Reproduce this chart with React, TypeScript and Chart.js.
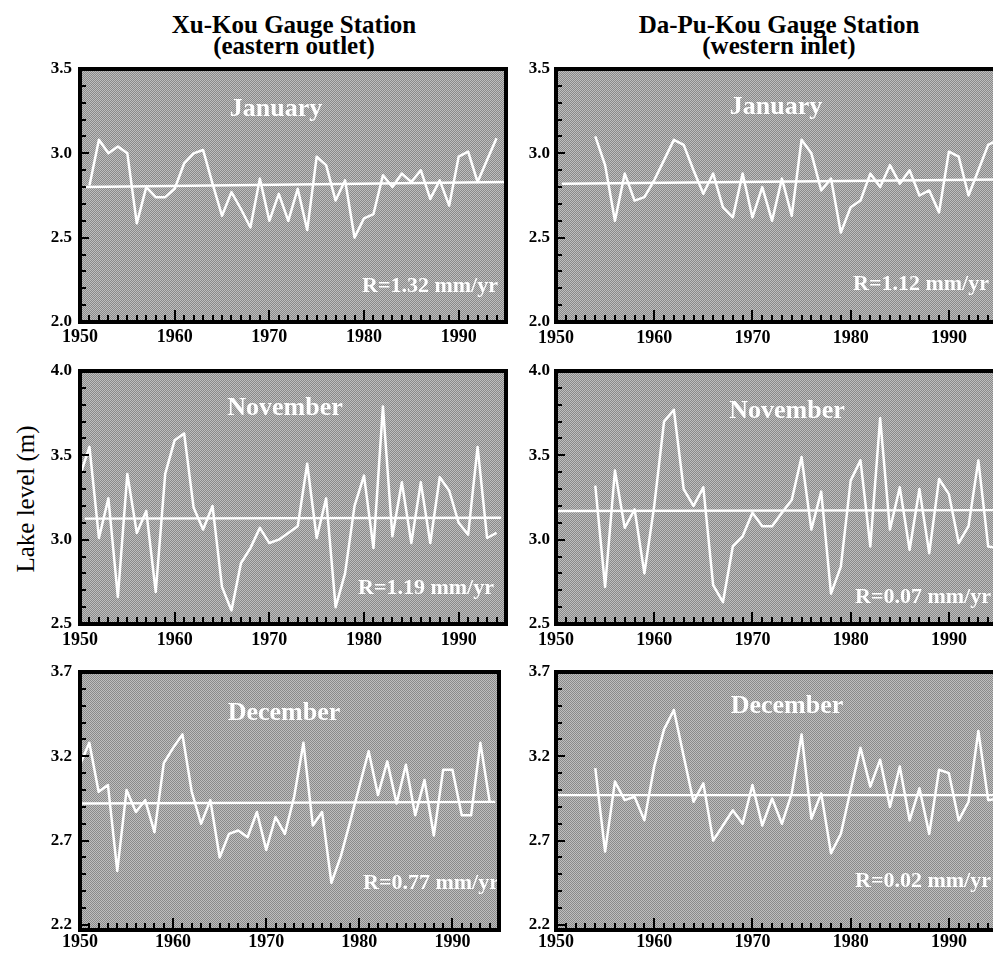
import React, { useEffect, useRef } from "react";
import { Chart, registerables } from "chart.js";

Chart.register(...registerables);

// ---------------- DATA ----------------
const xTickYears = [1950, 1960, 1970, 1980, 1990];

const janYTicks = [2.0, 2.5, 3.0, 3.5];
const novYTicks = [2.5, 3.0, 3.5, 4.0];
const decYTicks = [2.2, 2.7, 3.2, 3.7];

// Xu-Kou (eastern outlet)
const xuKouJanStart = 1951;
const xuKouJan = [2.81, 3.08, 3.0, 3.04, 3.0, 2.585, 2.8, 2.74, 2.74, 2.79, 2.94, 3.0, 3.02, 2.82, 2.63, 2.77, 2.67, 2.56, 2.85, 2.6, 2.76, 2.6, 2.79, 2.545, 2.98, 2.93, 2.72, 2.84, 2.5, 2.615, 2.64, 2.87, 2.8, 2.88, 2.83, 2.9, 2.73, 2.84, 2.69, 2.98, 3.01, 2.83, 2.96, 3.09];
const xuKouJanTrendYears = [1950.6, 1995];
const xuKouJanTrend = [2.8, 2.83];

const xuKouNovStart = 1950;
const xuKouNov = [3.38, 3.55, 3.01, 3.245, 2.66, 3.39, 3.04, 3.17, 2.69, 3.39, 3.59, 3.63, 3.19, 3.06, 3.2, 2.72, 2.58, 2.86, 2.95, 3.07, 2.98, 3.0, 3.04, 3.08, 3.45, 3.01, 3.245, 2.6, 2.8, 3.2, 3.38, 2.95, 3.79, 3.02, 3.34, 2.98, 3.34, 2.98, 3.37, 3.29, 3.1, 3.03, 3.55, 3.01, 3.04];
const xuKouNovTrendYears = [1950.5, 1994.5];
const xuKouNovTrend = [3.125, 3.13];

const xuKouDecStart = 1950;
const xuKouDec = [3.15, 3.28, 2.99, 3.03, 2.52, 3.0, 2.87, 2.94, 2.75, 3.16, 3.25, 3.33, 2.99, 2.8, 2.94, 2.6, 2.74, 2.76, 2.72, 2.87, 2.645, 2.84, 2.74, 2.96, 3.28, 2.79, 2.87, 2.45, 2.605, 2.81, 3.02, 3.23, 2.97, 3.17, 2.92, 3.15, 2.85, 3.06, 2.73, 3.12, 3.12, 2.85, 2.85, 3.28, 2.93];
const xuKouDecTrendYears = [1950, 1994.6];
const xuKouDecTrend = [2.92, 2.93];

// Da-Pu-Kou (western inlet)
const daPuKouJanStart = 1954;
const daPuKouJan = [3.1, 2.93, 2.6, 2.88, 2.72, 2.74, 2.84, 2.96, 3.08, 3.05, 2.9, 2.76, 2.88, 2.68, 2.62, 2.88, 2.62, 2.8, 2.6, 2.85, 2.63, 3.08, 3.0, 2.78, 2.85, 2.53, 2.68, 2.72, 2.88, 2.8, 2.93, 2.82, 2.9, 2.75, 2.78, 2.65, 3.01, 2.98, 2.75, 2.9, 3.05, 3.08];
const daPuKouJanTrendYears = [1950.6, 1995];
const daPuKouJanTrend = [2.82, 2.845];

const daPuKouNovStart = 1954;
const daPuKouNov = [3.32, 2.72, 3.41, 3.07, 3.18, 2.8, 3.2, 3.7, 3.77, 3.3, 3.2, 3.31, 2.73, 2.63, 2.96, 3.02, 3.16, 3.08, 3.08, 3.16, 3.235, 3.49, 3.06, 3.285, 2.68, 2.84, 3.35, 3.47, 2.96, 3.72, 3.06, 3.31, 2.94, 3.3, 2.92, 3.36, 3.27, 2.98, 3.08, 3.47, 2.96, 2.95];
const daPuKouNovTrendYears = [1950, 1995];
const daPuKouNovTrend = [3.17, 3.175];

const daPuKouDecStart = 1954;
const daPuKouDec = [3.13, 2.635, 3.05, 2.94, 2.96, 2.82, 3.14, 3.36, 3.475, 3.2, 2.93, 3.04, 2.7, 2.79, 2.88, 2.8, 3.03, 2.79, 2.95, 2.8, 2.98, 3.33, 2.83, 2.98, 2.625, 2.74, 3.0, 3.25, 3.02, 3.18, 2.9, 3.14, 2.82, 3.01, 2.74, 3.12, 3.1, 2.82, 2.93, 3.35, 2.94, 2.95];
const daPuKouDecTrendYears = [1950, 1995];
const daPuKouDecTrend = [2.97, 2.97];

const stationTitles = [
  ["Xu-Kou Gauge Station", "(eastern outlet)"],
  ["Da-Pu-Kou Gauge Station", "(western inlet)"],
];
const yAxisTitle = "Lake level (m)";

// ---------------- STYLE / LAYOUT ----------------
const SERIF = '"Liberation Serif", "Times New Roman", Times, serif';
const DARK = "#8a8a8a";
const LIGHT = "#bebebe";
const PAD_L = 70;
const PAD_T = 20;
const PAD_R = 20;
const PAD_B = 40;
const Y_AXIS_W = 60;
const X_AXIS_H = 34;

type Box = { L: number; T: number; R: number; B: number };
type Panel = {
  start: number;
  values: number[];
  trendYears: number[];
  trendValues: number[];
  yMin: number;
  yMax: number;
  yTicks: number[];
  month: string;
  rate: string;
  box: Box;
  monthPos: number[];
  ratePos: number[];
  xPad: number;
  yPad: number;
};

const panels: Panel[] = [
  {
    start: xuKouJanStart, values: xuKouJan, trendYears: xuKouJanTrendYears, trendValues: xuKouJanTrend,
    yMin: 2.0, yMax: 3.5, yTicks: janYTicks, month: "January", rate: "R=1.32 mm/yr",
    box: { L: 80, T: 69, R: 506, B: 322 }, monthPos: [196, 47], ratePos: [282, 223], xPad: 5, yPad: 8,
  },
  {
    start: daPuKouJanStart, values: daPuKouJan, trendYears: daPuKouJanTrendYears, trendValues: daPuKouJanTrend,
    yMin: 2.0, yMax: 3.5, yTicks: janYTicks, month: "January", rate: "R=1.12 mm/yr",
    box: { L: 556, T: 69, R: 998, B: 322 }, monthPos: [220, 45], ratePos: [297, 221], xPad: 6, yPad: 6,
  },
  {
    start: xuKouNovStart, values: xuKouNov, trendYears: xuKouNovTrendYears, trendValues: xuKouNovTrend,
    yMin: 2.5, yMax: 4.0, yTicks: novYTicks, month: "November", rate: "R=1.19 mm/yr",
    box: { L: 80, T: 371, R: 506, B: 624 }, monthPos: [205, 44], ratePos: [278, 223], xPad: 6, yPad: 8,
  },
  {
    start: daPuKouNovStart, values: daPuKouNov, trendYears: daPuKouNovTrendYears, trendValues: daPuKouNovTrend,
    yMin: 2.5, yMax: 4.0, yTicks: novYTicks, month: "November", rate: "R=0.07 mm/yr",
    box: { L: 556, T: 371, R: 998, B: 624 }, monthPos: [231, 47], ratePos: [299, 232], xPad: 6, yPad: 6,
  },
  {
    start: xuKouDecStart, values: xuKouDec, trendYears: xuKouDecTrendYears, trendValues: xuKouDecTrend,
    yMin: 2.17, yMax: 3.7, yTicks: decYTicks, month: "December", rate: "R=0.77 mm/yr",
    box: { L: 80, T: 672, R: 499, B: 930 }, monthPos: [204, 48], ratePos: [283, 217], xPad: 2, yPad: 8,
  },
  {
    start: daPuKouDecStart, values: daPuKouDec, trendYears: daPuKouDecTrendYears, trendValues: daPuKouDecTrend,
    yMin: 2.17, yMax: 3.7, yTicks: decYTicks, month: "December", rate: "R=0.02 mm/yr",
    box: { L: 556, T: 672, R: 998, B: 930 }, monthPos: [231, 41], ratePos: [299, 215], xPad: 2, yPad: 6,
  },
];

function makePattern(ctx: CanvasRenderingContext2D) {
  const c = document.createElement("canvas");
  c.width = 2;
  c.height = 2;
  const g = c.getContext("2d")!;
  g.fillStyle = LIGHT;
  g.fillRect(0, 0, 2, 2);
  g.fillStyle = DARK;
  g.fillRect(0, 0, 1, 1);
  g.fillRect(1, 1, 1, 1);
  return ctx.createPattern(c, "repeat");
}

const panelDecor = {
  id: "panelDecor",
  beforeDatasetsDraw(chart: any) {
    const { ctx, chartArea: a } = chart;
    ctx.save();
    ctx.fillStyle = makePattern(ctx) || "#a4a4a4";
    ctx.fillRect(a.left, a.top, a.right - a.left, a.bottom - a.top);
    ctx.restore();
  },
  afterDatasetsDraw(chart: any, _args: any, opts: any) {
    const { ctx, chartArea: a, scales } = chart;
    const p: Panel = opts.panel;
    ctx.save();
    // in-panel texts
    ctx.fillStyle = "#ffffff";
    ctx.textBaseline = "alphabetic";
    ctx.font = `bold 26px ${SERIF}`;
    ctx.textAlign = "center";
    ctx.fillText(p.month, a.left + p.monthPos[0], a.top + p.monthPos[1]);
    ctx.font = `bold 22px ${SERIF}`;
    ctx.textAlign = "left";
    ctx.fillText(p.rate, a.left + p.ratePos[0], a.top + p.ratePos[1]);

    // inward tick marks
    ctx.strokeStyle = "#000";
    ctx.lineWidth = 2;
    ctx.lineCap = "butt";
    ctx.beginPath();
    const ys = scales.y;
    const first = p.yTicks[0];
    const last = p.yTicks[p.yTicks.length - 1];
    const n = Math.round((last - first) / 0.1);
    for (let i = 0; i <= n; i++) {
      const v = first + i * 0.1;
      const py = Math.round(ys.getPixelForValue(v));
      const len = i % 5 === 0 ? 9 : 6;
      ctx.moveTo(a.left, py);
      ctx.lineTo(a.left + len, py);
    }
    const xs = scales.x;
    for (let yr = Math.ceil(xs.min); yr <= xs.max; yr++) {
      const px = Math.round(xs.getPixelForValue(yr));
      const len = yr % 10 === 0 ? 12 : 7;
      ctx.moveTo(px, a.bottom);
      ctx.lineTo(px, a.bottom - len);
    }
    ctx.stroke();

    // frame
    ctx.lineWidth = 4;
    ctx.strokeRect(a.left, a.top, a.right - a.left, a.bottom - a.top);
    ctx.restore();
  },
};

function PanelChart({ panel }: { panel: Panel }) {
  const ref = useRef<HTMLCanvasElement | null>(null);
  const { L, T, R, B } = panel.box;
  const w = R - L + PAD_L + PAD_R;
  const h = B - T + PAD_T + PAD_B;

  useEffect(() => {
    if (!ref.current) return;
    const series = panel.values.map((v, i) => ({ x: panel.start + i, y: v }));
    const trend = panel.trendYears.map((x, i) => ({ x, y: panel.trendValues[i] }));
    const tickFont = { family: SERIF, weight: "bold" as const };
    const chart = new Chart(ref.current, {
      type: "line",
      data: {
        datasets: [
          { data: trend, borderColor: "#ffffff", borderWidth: 2.4, pointRadius: 0, fill: false },
          {
            data: series, borderColor: "#ffffff", borderWidth: 2.5, pointRadius: 0, tension: 0,
            fill: false, borderJoinStyle: "round",
          },
        ],
      },
      options: {
        animation: false,
        responsive: false,
        devicePixelRatio: 1,
        events: [],
        layout: {
          padding: { left: PAD_L - Y_AXIS_W, top: PAD_T, right: PAD_R, bottom: PAD_B - X_AXIS_H },
        },
        plugins: {
          legend: { display: false },
          tooltip: { enabled: false },
          panelDecor: { panel },
        } as any,
        scales: {
          x: {
            type: "linear",
            position: "bottom",
            min: 1950,
            max: 1995,
            grid: { display: false, drawTicks: false },
            border: { display: false },
            ticks: {
              color: "#000",
              font: { ...tickFont, size: 18 },
              padding: panel.xPad,
              autoSkip: false,
              maxRotation: 0,
              minRotation: 0,
              callback: (v: any) => String(v),
            },
            afterBuildTicks: (s: any) => {
              s.ticks = xTickYears.map((v) => ({ value: v }));
            },
            afterFit: (s: any) => {
              s.height = X_AXIS_H;
            },
          },
          y: {
            type: "linear",
            position: "left",
            min: panel.yMin,
            max: panel.yMax,
            grid: { display: false, drawTicks: false },
            border: { display: false },
            ticks: {
              color: "#000",
              font: { ...tickFont, size: 17 },
              padding: panel.yPad,
              autoSkip: false,
              callback: (v: any) => Number(v).toFixed(1),
            },
            afterBuildTicks: (s: any) => {
              s.ticks = panel.yTicks.map((v) => ({ value: v }));
            },
            afterFit: (s: any) => {
              s.width = Y_AXIS_W;
            },
          },
        },
      },
      plugins: [panelDecor as any],
    });
    return () => chart.destroy();
  }, [panel]);

  return (
    <canvas
      ref={ref}
      width={w}
      height={h}
      style={{ position: "absolute", left: L - PAD_L, top: T - PAD_T, width: w, height: h }}
    />
  );
}

const titleCenters = [294, 779];

export default function App() {
  return (
    <div
      style={{
        position: "absolute",
        left: 0,
        top: 0,
        width: 993,
        height: 953,
        overflow: "hidden",
        background: "#ffffff",
      }}
    >
      {stationTitles.map((lines, ci) =>
        lines.map((t, li) => (
          <div
            key={`${ci}-${li}`}
            style={{
              position: "absolute",
              left: titleCenters[ci] - 200,
              top: li === 0 ? 12 : 33,
              width: 400,
              textAlign: "center",
              fontFamily: SERIF,
              fontWeight: "bold",
              fontSize: 25,
              lineHeight: "25px",
              color: "#000",
              whiteSpace: "nowrap",
            }}
          >
            {t}
          </div>
        ))
      )}
      <div
        style={{
          position: "absolute",
          left: 26 - 100,
          top: 499 - 14,
          width: 200,
          height: 28,
          lineHeight: "28px",
          textAlign: "center",
          fontFamily: SERIF,
          fontSize: 25,
          color: "#000",
          transform: "rotate(-90deg)",
          whiteSpace: "nowrap",
        }}
      >
        {yAxisTitle}
      </div>
      {panels.map((p, i) => (
        <PanelChart key={i} panel={p} />
      ))}
    </div>
  );
}
